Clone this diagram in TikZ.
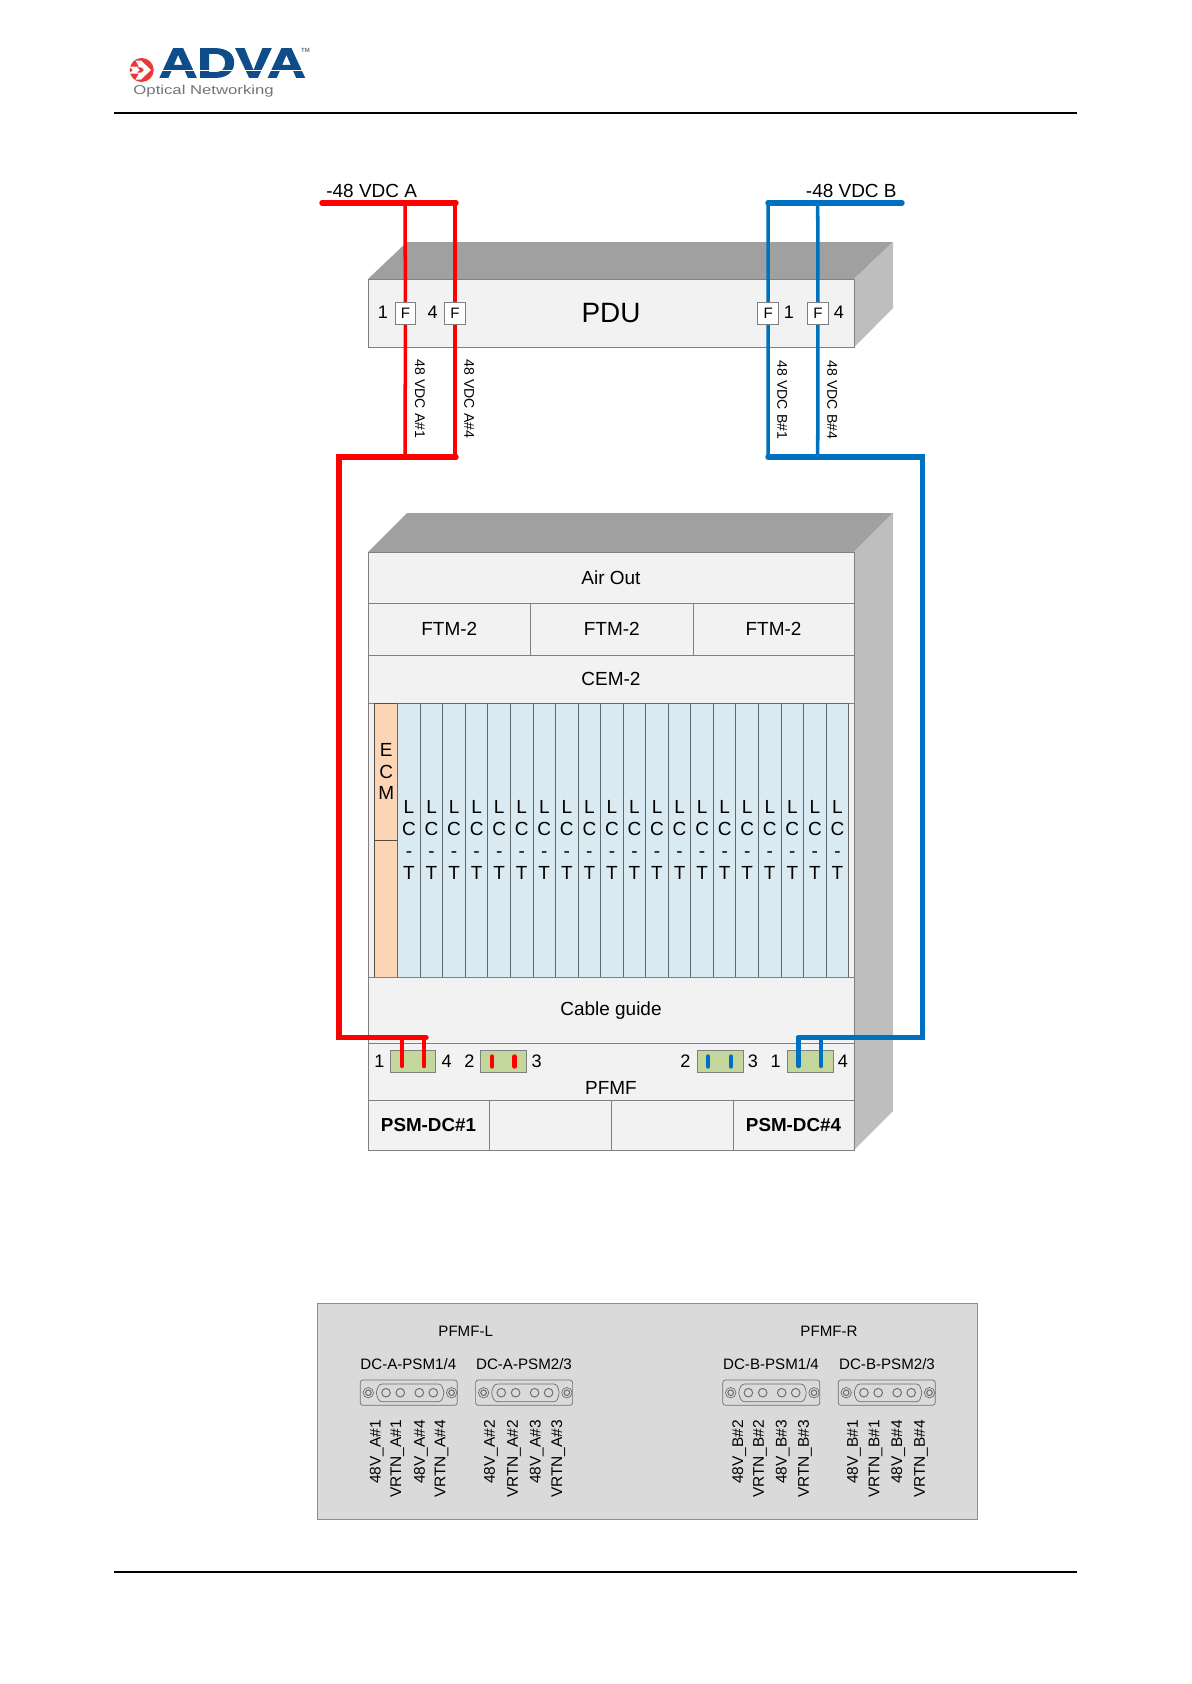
\documentclass[tikz,border=0pt]{standalone}
\usepackage{graphicx}
\usepackage{fontspec}
\setmainfont{Liberation Sans}
\newfontfamily\logofont[BoldFont={Liberation Sans Bold},BoldFeatures={FakeBold=2.5}]{Liberation Sans}
\definecolor{panelfill}{HTML}{F2F2F2}
\definecolor{edgegrey}{HTML}{808080}
\definecolor{topgrey}{HTML}{A0A0A0}
\definecolor{sidegrey}{HTML}{BEBEBE}
\definecolor{slotblue}{HTML}{DAEAF2}
\definecolor{ecmpeach}{HTML}{FBD5B5}
\definecolor{conngreen}{HTML}{C3D69B}
\definecolor{wirered}{HTML}{FF0000}
\definecolor{wireblue}{HTML}{0070C0}
\definecolor{plategrey}{HTML}{DADADA}
\definecolor{logoblue}{HTML}{0F4C8A}
\definecolor{logored}{HTML}{E8383A}
\definecolor{logotext}{HTML}{6F7477}
\pgfdeclarelayer{back}
\pgfdeclarelayer{wires}
\pgfsetlayers{back,wires,main}
\tikzset{
  panel/.style={draw=edgegrey,fill=panelfill,line width=0.55pt,inner sep=0pt,outer sep=0pt},
  slotbox/.style={panel,fill=slotblue,draw=black!55!slotblue,line width=0.55pt,align=center,f19},
  ecmbox/.style={panel,fill=ecmpeach,draw=black!65!ecmpeach,align=center,f19},
  fuse/.style={panel,fill=white,f15},
  conn/.style={panel,fill=conngreen},
  f28/.style={font=\fontsize{15.9}{19}\selectfont},
  f19/.style={font=\fontsize{10.8}{12.4}\selectfont},
  f18/.style={font=\fontsize{10.3}{12}\selectfont},
  f15/.style={font=\fontsize{8.6}{10}\selectfont},
  fv/.style={font=\fontsize{8.8}{10}\selectfont},
  f14/.style={font=\fontsize{8}{10}\selectfont},
  fb/.style={font=\fontsize{10.7}{12}\selectfont\bfseries},
  lab/.style={inner sep=0pt,outer sep=0pt},
  bus/.style={line width=3.1pt,line cap=round,line join=miter},
  drop/.style={line width=2pt},
  pin/.style={line width=2.5pt,line cap=round},
  redw/.style={draw=wirered},
  bluew/.style={draw=wireblue},
  rule/.style={draw=black,line width=1.1pt},
  dsub/.style={draw=black!50!plategrey,line width=0.4pt},
}
\newcommand{\pxbox}[7]{% name, x1,y1,x2,y2, style, text
  \node[#6,minimum width={(#4-#2)*0.02cm},minimum height={(#5-#3)*0.02cm}] (#1) at ({(#2+#4)/2},{(#3+#5)/2}) {#7};}
\newcommand{\dsubconn}[3]{% name, x, y
  \pxbox{#1}{#2}{#3}{#2+97}{#3+25.3}{dsub,rounded corners=1.5pt,inner sep=0pt,outer sep=0pt}{}
  \begin{scope}[shift={(#2,#3)}]
    \draw[dsub,rounded corners=1.6pt] (15.5,12.7) -- (19,4) -- (81,4) -- (84,12.7) -- (81,21.7) -- (19,21.7) -- cycle;
    \foreach \hx in {25.7,40,59,73}{\draw[dsub,line width=0.55pt] (\hx,12.7) circle[radius=4.3];}
    \foreach \hx in {8,91.3}{\draw[dsub] (\hx,12.7) circle[radius=5.2];\draw[dsub,line width=0.6pt] (\hx,12.7) circle[radius=2.8];}
  \end{scope}}
\newcommand{\vlab}[3]{\node[lab,fv,rotate=90,anchor=east] (#1) at (#2,1420) {#3};}
\begin{document}
\begin{tikzpicture}[x=0.02cm,y=-0.02cm]
\useasboundingbox (0,0) rectangle (1191,1684);

% page furniture
\coordinate (hdl) at (114,113); \coordinate (hdr) at (1077,113);
\coordinate (ftl) at (114,1572); \coordinate (ftr) at (1077,1572);
\draw[rule] (hdl) -- (hdr);
\draw[rule] (ftl) -- (ftr);

% logo
\fill[logored] (141.7,70) circle[radius=12];
\fill[white] (129,66.5) -- (139,66.5) -- (135.5,60.5) -- (141,60.5) -- (151,70) -- (141,79.5) -- (135.5,79.5) -- (139,73.5) -- (129,73.5) -- (133,70) -- cycle;
\fill[logored] (140,70) -- (137,67.3) -- (141,67.3) -- (144,70) -- (141,72.7) -- (137,72.7) -- cycle;
\node[lab,text=logoblue] (adva) at (232.3,63) {\resizebox{83.5pt}{16.4pt}{\logofont\bfseries ADVA}};
\fill[white] (154,70) rectangle (310,71.3);
\node[lab,text=logotext,font=\fontsize{3.4}{4}\selectfont\bfseries] (tm) at (305.5,50) {TM};
\node[lab,text=logotext] (optnet) at (203.6,91.3) {\resizebox{79.8pt}{5.3pt}{\fontsize{8}{9}\selectfont Optical Networking}};

\begin{pgfonlayer}{back}
% PDU
\fill[topgrey] (368,279) -- (407,242) -- (893,242) -- (854,279) -- cycle;
\fill[sidegrey] (854,279) -- (893,242) -- (893,308) -- (854,347.5) -- cycle;
\pxbox{pdu}{368}{279}{854}{347.5}{panel,f28}{PDU}
% chassis
\fill[topgrey] (368,552) -- (407,513) -- (893,513) -- (854,552) -- cycle;
\fill[sidegrey] (854,552) -- (893,513) -- (893,1111) -- (854,1150) -- cycle;
\pxbox{airout}{368}{552}{854}{603}{panel,f19}{Air Out}
\pxbox{ftmA}{368}{603}{530.5}{655}{panel,f19}{FTM-2}
\pxbox{ftmB}{530.5}{603}{693}{655}{panel,f19}{FTM-2}
\pxbox{ftmC}{693}{603}{854}{655}{panel,f19}{FTM-2}
\pxbox{cem}{368}{655}{854}{703}{panel,f19}{CEM-2}
\pxbox{slotbay}{368}{703}{854}{977}{panel}{}
\pxbox{ecmtop}{374.7}{703}{397.7}{840}{ecmbox}{E\\C\\M}
\pxbox{ecmbot}{374.7}{840}{397.7}{977}{ecmbox}{}
\foreach \i in {0,...,19}{
  \pgfmathsetmacro{\xa}{397.7+22.55*\i}
  \pgfmathsetmacro{\xb}{397.7+22.55*(\i+1)}
  \pxbox{lct\i}{\xa}{703}{\xb}{977}{slotbox}{L\\C\\-\\T}
}
\pxbox{cable}{368}{977}{854}{1043.3}{panel,f19}{Cable guide}
\pxbox{pfmf}{368}{1043.3}{854}{1100.3}{panel}{}
\node[lab,f19] (pfmflabel) at (611,1087.5) {PFMF};
\pxbox{psmA}{368}{1100.3}{489}{1150}{panel,fb}{PSM-DC\#1}
\pxbox{psmB}{489}{1100.3}{611}{1150}{panel}{}
\pxbox{psmC}{611}{1100.3}{733}{1150}{panel}{}
\pxbox{psmD}{733}{1100.3}{854}{1150}{panel,fb}{PSM-DC\#4}
\pxbox{connA}{390}{1050}{435.5}{1072.7}{conn}{}
\pxbox{connB}{480.5}{1050}{526}{1072.7}{conn}{}
\pxbox{connC}{697.5}{1050}{743}{1072.7}{conn}{}
\pxbox{connD}{787.5}{1050}{833}{1072.7}{conn}{}
\end{pgfonlayer}

% PFMF numbers
\node[lab,f18] (nA1) at (379.4,1061) {1};
\node[lab,f18] (nA4) at (446.7,1061) {4};
\node[lab,f18] (nB2) at (469.3,1061) {2};
\node[lab,f18] (nB3) at (536.6,1061) {3};
\node[lab,f18] (nC2) at (685.4,1061) {2};
\node[lab,f18] (nC3) at (753,1061) {3};
\node[lab,f18] (nD1) at (775.6,1061) {1};
\node[lab,f18] (nD4) at (843,1061) {4};

% PDU fuses and numbers
\pxbox{fA1}{395.3}{302}{415.7}{324.7}{fuse}{F}
\pxbox{fA4}{444.3}{302}{465.7}{324.7}{fuse}{F}
\pxbox{fB1}{757.7}{302}{778.7}{324.7}{fuse}{F}
\pxbox{fB4}{807.7}{302}{828.3}{324.7}{fuse}{F}
\node[lab,f18] (pA1) at (383,312.5) {1};
\node[lab,f18] (pA4) at (432.7,312.5) {4};
\node[lab,f18] (pB1) at (789,312.5) {1};
\node[lab,f18] (pB4) at (839,312.5) {4};

% wire way points
\coordinate (busAl) at (322,203); \coordinate (busAr) at (456,203);
\coordinate (tapA1) at (405,203); \coordinate (tapA4) at (455,203);
\coordinate (retA1) at (405,457); \coordinate (retA4) at (455,457);
\coordinate (retAr) at (456,457); \coordinate (retAc) at (339,457);
\coordinate (retAd) at (339,1037.5); \coordinate (retAe) at (426,1037.5);
\coordinate (pinA1t) at (402,1037.5); \coordinate (pinA1b) at (402,1066);
\coordinate (pinA4t) at (424,1037.5); \coordinate (pinA4b) at (424,1066);
\coordinate (pinB2t) at (492,1056.5); \coordinate (pinB2b) at (492,1066.5);
\coordinate (pinB3t) at (514.6,1056.5); \coordinate (pinB3b) at (514.6,1066.5);
\coordinate (busBl) at (768,203); \coordinate (busBr) at (902,203);
\coordinate (tapB1) at (768,203); \coordinate (tapB4) at (817.7,203);
\coordinate (retB1) at (768,457); \coordinate (retB4) at (817.7,457);
\coordinate (retBl) at (768,457); \coordinate (retBc) at (922.7,457);
\coordinate (retBd) at (922.7,1037.5); \coordinate (retBe) at (798.6,1037.5);
\coordinate (pinD1t) at (798.6,1037.5); \coordinate (pinD1b) at (798.6,1066);
\coordinate (pinD4t) at (821,1037.5); \coordinate (pinD4b) at (821,1066);
\coordinate (pinC2t) at (708,1056.5); \coordinate (pinC2b) at (708,1066.5);
\coordinate (pinC3t) at (731,1056.5); \coordinate (pinC3b) at (731,1066.5);

\begin{pgfonlayer}{wires}
\draw[bus,redw] (busAl) -- (busAr);
\draw[drop,redw] (tapA1) -- (fA1) -- (retA1);
\draw[drop,redw] (tapA4) -- (fA4) -- (retA4);
\draw[bus,redw] (retAr) -- (retAc) -- (retAd) -- (retAe);
\draw[pin,redw] (pinA1t) -- (pinA1b);
\draw[pin,redw] (pinA4t) -- (pinA4b);
\draw[pin,redw] (pinB2t) -- (pinB2b);
\draw[pin,redw] (pinB3t) -- (pinB3b);
\draw[bus,bluew] (busBl) -- (busBr);
\draw[drop,bluew] (tapB1) -- (fB1) -- (retB1);
\draw[drop,bluew] (tapB4) -- (fB4) -- (retB4);
\draw[bus,bluew] (retBl) -- (retBc) -- (retBd) -- (retBe);
\draw[pin,bluew] (pinD1t) -- (pinD1b);
\draw[pin,bluew] (pinD4t) -- (pinD4b);
\draw[pin,bluew] (pinC2t) -- (pinC2b);
\draw[pin,bluew] (pinC3t) -- (pinC3b);
\end{pgfonlayer}

% feed labels
\node[lab,f19] (vdcA) at (371.7,191) {-48 VDC A};
\node[lab,f19] (vdcB) at (851.3,191) {-48 VDC B};
\node[lab,f14,rotate=-90] (lA1) at (420,399) {48 VDC A\#1};
\node[lab,f14,rotate=-90] (lA4) at (469.3,399) {48 VDC A\#4};
\node[lab,f14,rotate=-90] (lB1) at (782.3,400) {48 VDC B\#1};
\node[lab,f14,rotate=-90] (lB4) at (832.3,400) {48 VDC B\#4};

% connector plate
\begin{pgfonlayer}{back}
\pxbox{plate}{317.3}{1303.3}{977.5}{1519.3}{panel,fill=plategrey,draw=black!35!plategrey}{}
\end{pgfonlayer}
\node[lab,f15] (pfmfL) at (465.7,1331.7) {PFMF-L};
\node[lab,f15] (pfmfR) at (829,1331.7) {PFMF-R};
\node[lab,f15] (tA14) at (408.3,1364) {DC-A-PSM1/4};
\node[lab,f15] (tA23) at (524,1364) {DC-A-PSM2/3};
\node[lab,f15] (tB14) at (771,1364) {DC-B-PSM1/4};
\node[lab,f15] (tB23) at (887,1364) {DC-B-PSM2/3};
\dsubconn{dA14}{360.3}{1380}
\dsubconn{dA23}{475.6}{1380}
\dsubconn{dB14}{722.7}{1380}
\dsubconn{dB23}{838.2}{1380}
\vlab{a1}{376.7}{48V\_A\#1}
\vlab{a2}{397.3}{VRTN\_A\#1}
\vlab{a3}{421}{48V\_A\#4}
\vlab{a4}{441.7}{VRTN\_A\#4}
\vlab{a5}{491}{48V\_A\#2}
\vlab{a6}{514}{VRTN\_A\#2}
\vlab{a7}{536.7}{48V\_A\#3}
\vlab{a8}{558.3}{VRTN\_A\#3}
\vlab{b1}{739.3}{48V\_B\#2}
\vlab{b2}{760}{VRTN\_B\#2}
\vlab{b3}{782.7}{48V\_B\#3}
\vlab{b4}{805}{VRTN\_B\#3}
\vlab{b5}{854}{48V\_B\#1}
\vlab{b6}{875.7}{VRTN\_B\#1}
\vlab{b7}{898.3}{48V\_B\#4}
\vlab{b8}{921}{VRTN\_B\#4}
\end{tikzpicture}
\end{document}
